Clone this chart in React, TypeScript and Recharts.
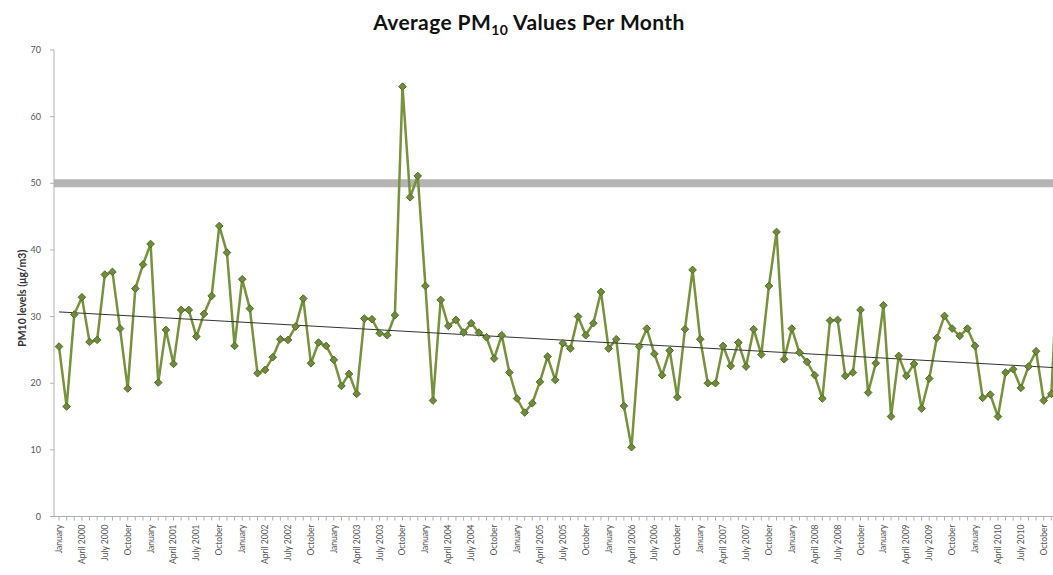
import {
  LineChart,
  Line,
  XAxis,
  YAxis,
  ReferenceLine,
} from "recharts";

const monthNames = [
  "January", "February", "March", "April", "May", "June",
  "July", "August", "September", "October", "November", "December",
];
const years = [2000, 2001, 2002, 2003, 2004, 2005, 2006, 2007, 2008, 2009, 2010];

// monthly average PM10 (µg/m3), Jan 2000 .. Dec 2010
const pm10 = [
  25.5, 16.5, 30.3, 32.9, 26.2, 26.5, 36.3, 36.7, 28.2, 19.2, 34.2, 37.8,
  40.9, 20.1, 28.0, 22.9, 31.0, 31.0, 27.0, 30.4, 33.1, 43.6, 39.6, 25.6,
  35.6, 31.2, 21.5, 22.0, 23.9, 26.6, 26.5, 28.5, 32.7, 23.0, 26.1, 25.6,
  23.5, 19.6, 21.4, 18.4, 29.7, 29.6, 27.5, 27.2, 30.2, 64.5, 47.9, 51.1,
  34.6, 17.4, 32.5, 28.6, 29.5, 27.6, 29.0, 27.6, 26.9, 23.7, 27.2, 21.6,
  17.7, 15.6, 17.0, 20.2, 24.0, 20.5, 26.0, 25.2, 30.0, 27.2, 29.0, 33.7,
  25.2, 26.6, 16.6, 10.4, 25.5, 28.2, 24.4, 21.2, 24.9, 17.9, 28.1, 37.0,
  26.6, 20.0, 20.0, 25.6, 22.6, 26.1, 22.5, 28.1, 24.3, 34.6, 42.7, 23.6,
  28.2, 24.6, 23.2, 21.2, 17.7, 29.4, 29.5, 21.1, 21.6, 31.0, 18.6, 23.0,
  31.7, 15.0, 24.1, 21.1, 22.9, 16.2, 20.7, 26.8, 30.1, 28.2, 27.1, 28.2,
  25.6, 17.8, 18.3, 15.0, 21.6, 22.1, 19.3, 22.5, 24.8, 17.4, 18.4, 42.0,
];

// one label per quarter, as printed under the axis
const tickLabels = [
  "January", "April 2000", "July 2000", "October",
  "January", "April 2001", "July 2001", "October",
  "January", "April 2002", "July 2002", "October",
  "January", "April 2003", "July 2003", "October",
  "January", "April 2004", "July 2004", "October",
  "January", "April 2005", "July 2005", "October",
  "January", "April 2006", "July 2006", "October",
  "January", "April 2007", "July 2007", "October",
  "January", "April 2008", "July 2008", "October",
  "January", "April 2009", "July 2009", "October",
  "January", "April 2010", "July 2010", "October",
];

const yTicks = [0, 10, 20, 30, 40, 50, 60, 70];
const limitValue = 50;
const trendStart = 30.7;
const trendEnd = 22.3;

const categories = years.flatMap((y) => monthNames.map((m) => `${m} ${y}`));
const data = categories.map((month, i) => ({ month, pm10: pm10[i] }));

const FONT = "Lato, 'Open Sans', sans-serif";

const MonthTick = (props: any) => {
  const { x, y, index } = props;
  const label = index % 3 === 0 ? tickLabels[index / 3] : "";
  if (!label) return null;
  return (
    <text
      x={0}
      y={0}
      transform={`translate(${x},${y + 2}) rotate(-90)`}
      textAnchor="end"
      dy="0.35em"
      fontSize={8.5}
      fontFamily={FONT}
      fill="#555"
    >
      {label}
    </text>
  );
};

const Diamond = (props: any) => {
  const { cx, cy } = props;
  if (cx == null || cy == null) return null;
  const r = 3.8;
  return (
    <polygon
      points={`${cx},${cy - r} ${cx + r},${cy} ${cx},${cy + r} ${cx - r},${cy}`}
      fill="#6f8c38"
      stroke="#52692a"
      strokeWidth={1}
    />
  );
};

const PMChart = () => {
  return (
    <div
      style={{
        position: "absolute",
        left: 0,
        top: 0,
        width: 1053,
        height: 575,
        overflow: "hidden",
        background: "#fff",
      }}
    >
      <div
        style={{
          position: "absolute",
          top: 10,
          left: 0,
          width: 1058,
          textAlign: "center",
          fontFamily: FONT,
          fontWeight: 700,
          fontSize: 21,
          letterSpacing: 0.4,
          color: "#111",
          lineHeight: "24px",
        }}
      >
        Average PM<sub style={{ fontSize: 14, lineHeight: 0 }}>10</sub> Values Per Month
      </div>
      <LineChart
        width={1063}
        height={575}
        data={data}
        margin={{ top: 50, right: 0, left: 0, bottom: 0 }}
      >
        <XAxis
          dataKey="month"
          interval={0}
          height={58.5}
          padding={{ left: 5, right: 4 }}
          tick={<MonthTick />}
          tickSize={4}
          stroke="#b0b0b0"
        />
        <YAxis
          width={54}
          domain={[0, 70]}
          ticks={yTicks}
          tickSize={4}
          tickMargin={9}
          stroke="#b0b0b0"
          tick={{ fontSize: 9, fill: "#555", fontFamily: FONT }}
          label={{
            value: "PM10 levels (μg/m3)",
            angle: -90,
            position: "insideLeft",
            offset: 22,
            dy: 15,
            style: {
              fontSize: 10.5,
              fontWeight: 700,
              fill: "#333",
              fontFamily: FONT,
              textAnchor: "middle",
            },
          }}
        />
        <ReferenceLine y={limitValue} stroke="#b4b4b4" strokeWidth={8} />
        <Line
          dataKey="pm10"
          stroke="#76923c"
          strokeWidth={2.5}
          dot={<Diamond />}
          activeDot={false}
          isAnimationActive={false}
        />
        <ReferenceLine
          segment={[
            { x: categories[0], y: trendStart },
            { x: categories[categories.length - 1], y: trendEnd },
          ]}
          stroke="#333"
          strokeWidth={1}
          ifOverflow="visible"
        />
      </LineChart>
    </div>
  );
};

export default function App() {
  return <PMChart />;
}
